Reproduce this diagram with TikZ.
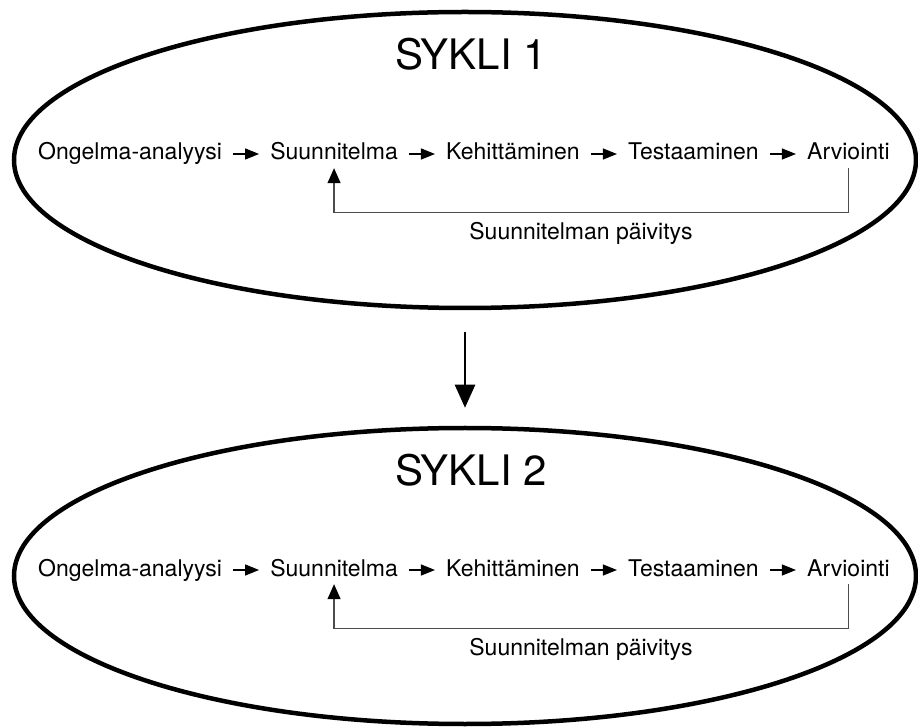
\documentclass[tikz,border=0pt]{standalone}
\usepackage{fontspec}
\setmainfont{TeX Gyre Heros}
\usetikzlibrary{arrows.meta,positioning,shapes.geometric,calc}

\begin{document}
\begin{tikzpicture}[x=1pt,y=1pt,
	syklibox/.style={draw,ellipse,line width=4.5pt,minimum width=902pt,minimum height=296pt},
	otsikko/.style={font=\fontsize{42}{50}\selectfont,anchor=base},
	phase/.style={font=\fontsize{23}{28}\selectfont,inner xsep=11pt,inner ysep=3pt,text height=17pt,text depth=5pt},
	lbl/.style={font=\fontsize{23}{28}\selectfont,text=black},
	flow/.style={-{Triangle[length=14pt,width=11pt]},line width=1.2pt},
	back/.style={-{Triangle[length=15pt,width=13pt,color=black]},line width=1.2pt,black!70},
	next/.style={-{Triangle[length=23pt,width=20pt]},line width=2.5pt}]
	\useasboundingbox (0,0) rectangle (918,726);
	% sykli 1
	\node (sykli1) [syklibox] at (465,566) {};
	\node (title1) [otsikko] at (471,656) {SYKLI 1};
	\node (ong1) [phase,anchor=base west] at (27,566) {Ongelma-analyysi};
	\node (suun1) [phase,right=26pt of ong1] {Suunnitelma};
	\node (keh1) [phase,right=26pt of suun1] {Kehittäminen};
	\node (test1) [phase,right=26pt of keh1] {Testaaminen};
	\node (arv1) [phase,right=26pt of test1] {Arviointi};
	\draw [flow] (ong1) -- (suun1);
	\draw [flow] (suun1) -- (keh1);
	\draw [flow] (keh1) -- (test1);
	\draw [flow] (test1) -- (arv1);
	\draw [back] (arv1.south) -- ++(0,-44) -| node [lbl,pos=0.26,below=6pt] (upd1) {Suunnitelman päivitys} (suun1.south);
	% sykli 2
	\node (sykli2) [syklibox] at (465,150) {};
	\node (title2) [otsikko] at (471,240) {SYKLI 2};
	\node (ong2) [phase,anchor=base west] at (27,150) {Ongelma-analyysi};
	\node (suun2) [phase,right=26pt of ong2] {Suunnitelma};
	\node (keh2) [phase,right=26pt of suun2] {Kehittäminen};
	\node (test2) [phase,right=26pt of keh2] {Testaaminen};
	\node (arv2) [phase,right=26pt of test2] {Arviointi};
	\draw [flow] (ong2) -- (suun2);
	\draw [flow] (suun2) -- (keh2);
	\draw [flow] (keh2) -- (test2);
	\draw [flow] (test2) -- (arv2);
	\draw [back] (arv2.south) -- ++(0,-44) -| node [lbl,pos=0.26,below=6pt] (upd2) {Suunnitelman päivitys} (suun2.south);
	% syklista toiseen
	\draw [next,shorten <=22pt,shorten >=18pt] (sykli1.south) -- (sykli2.north);
\end{tikzpicture}
\end{document}
